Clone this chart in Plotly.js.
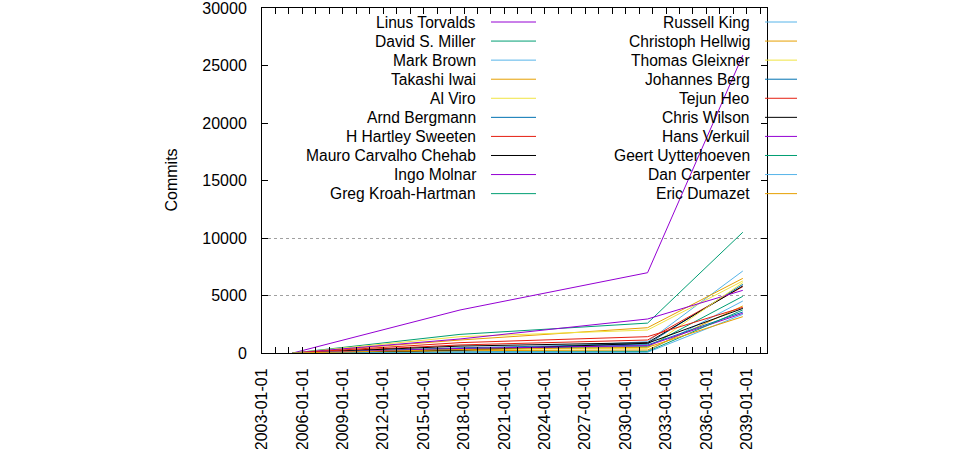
<!DOCTYPE html>
<html><head><meta charset="utf-8">
<script src="https://cdn.plot.ly/plotly-3.0.1.min.js"></script>
<style>html,body{margin:0;padding:0;background:#fff}#chart{width:960px;height:449px}</style>
</head><body><div id="chart"></div>
<script>
const names = ['Linus Torvalds','David S. Miller','Mark Brown','Takashi Iwai','Al Viro','Arnd Bergmann','H Hartley Sweeten','Mauro Carvalho Chehab','Ingo Molnar','Greg Kroah-Hartman',
  'Russell King','Christoph Hellwig','Thomas Gleixner','Johannes Berg','Tejun Heo','Chris Wilson','Hans Verkuil','Geert Uytterhoeven','Dan Carpenter','Eric Dumazet'];
const palette = ['#9400d3','#009e73','#56b4e9','#e69f00','#f0e442','#0072b2','#e51e10','#000000'];
const startDate = '2005-04-16';
const checkpointDates = ['2017-09-15','2031-08-20','2038-09-15'];
const commits2017 = [3740,1620,150,1130,1420,450,700,600,1220,400, 120,200,300,350,900,250,400,60,20,300];
const commits2031 = [6983,2600,984,2200,2000,783,1130,899,2957,551, 174,261,406,700,1420,850,638,116,60,500];
const commits2038 = [25900,10500,7130,6490,6260,5970,5770,5830,5450,4930, 4520,4090,6120,3565,3970,3880,3450,3750,3360,3160];
const yTickValues = [0,5000,10000,15000,20000,25000,30000];
const gridValues = [5000,10000];

const W = 960, H = 449, L = 262, R = 767, T = 8, B = 353;
const px = x => (x - L) / (R - L);
const py = y => (B - y) / (B - T);

const traces = names.map((n, i) => ({
  type: 'scatter', mode: 'lines', name: n,
  x: [startDate].concat(checkpointDates),
  y: [0, commits2017[i], commits2031[i], commits2038[i]],
  line: {color: palette[i % 8], width: 1},
  hoverinfo: 'skip'
}));

const annotations = [];
const shapes = [];
names.forEach((n, i) => {
  const col = Math.floor(i / 10), row = i % 10;
  const yPix = 22 + row * 19.07;
  const textEnd = col === 0 ? 478 : 752;
  const s0 = col === 0 ? 491 : 765, s1 = col === 0 ? 536 : 797;
  annotations.push({xref: 'paper', yref: 'paper', x: px(textEnd), y: py(yPix), xanchor: 'right', yanchor: 'middle',
    text: n, showarrow: false, font: {family: 'Liberation Sans, Arial, sans-serif', size: 15.6, color: '#000'}});
  shapes.push({type: 'line', xref: 'paper', yref: 'paper', x0: px(s0), x1: px(s1), y0: py(yPix), y1: py(yPix),
    line: {color: palette[i % 8], width: 1}});
});
annotations.push({xref: 'paper', yref: 'paper', x: px(171), y: 0.5, xanchor: 'center', yanchor: 'middle',
  text: 'Commits', textangle: -90, showarrow: false, font: {family: 'Liberation Sans, Arial, sans-serif', size: 16, color: '#000'}});

const layout = {
  width: W, height: H,
  margin: {l: L, r: W - R, t: T, b: H - B, pad: 0},
  paper_bgcolor: '#fff', plot_bgcolor: 'rgba(0,0,0,0)',
  showlegend: false,
  font: {family: 'Liberation Sans, Arial, sans-serif', size: 16, color: '#000'},
  xaxis: {
    type: 'date', range: ['2003-01-01', '2040-07-02'],
    tick0: '2003-01-01', dtick: 'M36', tickformat: '%Y-%m-%d', tickangle: -90,
    ticks: 'inside', ticklen: 6, tickcolor: '#000', tickwidth: 1,
    minor: {dtick: 'M12', ticks: 'inside', ticklen: 3, tickcolor: '#000', showgrid: false},
    showline: true, linecolor: '#000', linewidth: 1, mirror: 'allticks',
    showgrid: false, zeroline: false, ticklabelstandoff: 8, ticklabeloverflow: 'allow', automargin: false
  },
  yaxis: {
    range: [0, 30000], tickvals: yTickValues, ticktext: yTickValues.map(String),
    ticks: 'inside', ticklen: 6, tickcolor: '#000',
    showline: true, linecolor: '#000', linewidth: 1, mirror: 'allticks',
    showgrid: false, zeroline: false, ticklabelstandoff: 11, ticklabeloverflow: 'allow', automargin: false
  },
  yaxis2: {
    overlaying: 'y', range: [0, 30000], tickvals: gridValues, showticklabels: false, ticks: '',
    showgrid: true, gridcolor: '#a0a0a0', griddash: '3px,3px', gridwidth: 1, showline: false, zeroline: false
  },
  annotations: annotations,
  shapes: shapes
};
traces.push({type: 'scatter', mode: 'lines', x: [], y: [], yaxis: 'y2', showlegend: false, hoverinfo: 'skip'});
Plotly.newPlot('chart', traces, layout, {displayModeBar: false, staticPlot: true});
</script></body></html>
